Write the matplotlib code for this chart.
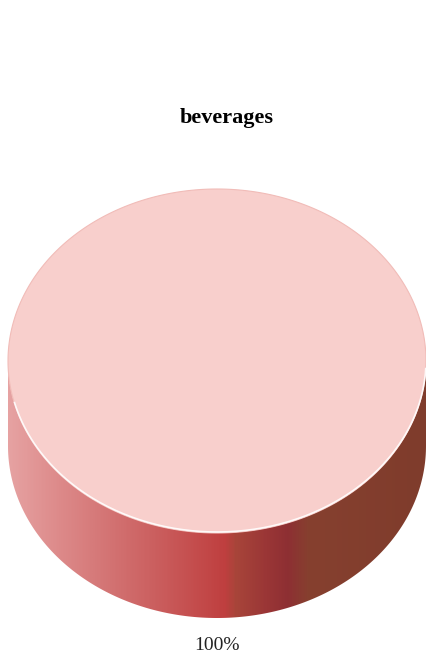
import numpy as np
import matplotlib
matplotlib.use("Agg")
import matplotlib.pyplot as plt
from matplotlib.patches import Polygon
from matplotlib.colors import LinearSegmentedColormap

# data
title = "beverages"
categories = ["beverages"]
values = [100]

top_color = "#f8cfcc"
# side shading stops (position across the pie width, colour)
side_stops = [(0.00, "#e6a2a2"), (0.12, "#dd8a8a"), (0.28, "#d06c6c"),
              (0.42, "#c65252"), (0.52, "#bf3f3f"), (0.545, "#a8453a"),
              (0.62, "#9a3636"), (0.67, "#8e2f33"), (0.72, "#86402f"),
              (1.00, "#7f3c2c")]

fig = plt.figure(figsize=(4.26, 6.56), dpi=100)
ax = fig.add_axes([0, 0, 1, 1])
ax.set_xlim(0, 426)
ax.set_ylim(656, 0)
ax.axis("off")

# pie geometry in pixels (y grows downward)
cx, cy, rx, ry, depth = 217, 361, 209, 172, 85

fracs = np.array(values, dtype=float) / np.sum(values)
start = -90.0
angles = start + 360 * np.concatenate([[0], np.cumsum(fracs)])

# side wall (front half only is visible)
t = np.linspace(0, np.pi, 200)
upper = np.column_stack([cx + rx * np.cos(t), cy + ry * np.sin(t)])
lower = np.column_stack([cx + rx * np.cos(t[::-1]), cy + ry * np.sin(t[::-1]) + depth])
side = Polygon(np.vstack([upper, lower]), closed=True, facecolor="none", edgecolor="none")
ax.add_patch(side)
cmap = LinearSegmentedColormap.from_list("side", side_stops)
grad = np.linspace(0, 1, 400).reshape(1, -1)
img = ax.imshow(grad, cmap=cmap, aspect="auto",
                extent=[cx - rx, cx + rx, cy + ry + depth, cy], zorder=1)
img.set_clip_path(side)

# top faces, one wedge per value
for i, cat in enumerate(categories):
    a = np.radians(np.linspace(angles[i], angles[i + 1], 360))
    pts = np.column_stack([cx + rx * np.cos(a), cy + ry * np.sin(a)])
    if fracs[i] < 1:
        pts = np.vstack([[cx, cy], pts])
    ax.add_patch(Polygon(pts, closed=True, facecolor=top_color,
                         edgecolor="#f1bcb8", linewidth=0.8, zorder=2))

# light bevel along the front rim
tb = np.linspace(0.05, np.pi - 0.25, 200)
ax.plot(cx + rx * np.cos(tb), cy + ry * np.sin(tb) - 1, color="white", lw=1.2, alpha=0.9, zorder=3)

# percentage labels
for i, f in enumerate(fracs):
    mid = np.radians((angles[i] + angles[i + 1]) / 2)
    lx = cx + rx * np.cos(mid) * (0 if f == 1 else 1)
    ly = cy + ry * np.sin(mid) + depth + 27
    ax.text(lx, ly, f"{f * 100:.0f}%", ha="center", va="center",
            fontsize=14, family="Liberation Serif", color="#222222")

ax.text(227, 118, title, ha="center", va="center", fontsize=16,
        fontweight="bold", family="Liberation Serif", color="black")

fig.savefig("out.png", dpi=100)
